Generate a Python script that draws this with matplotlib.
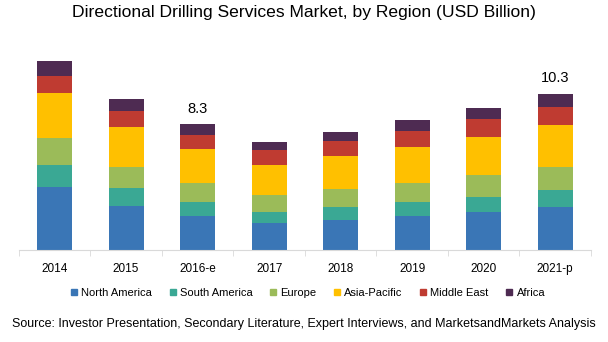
import numpy as np
import matplotlib.pyplot as plt
from matplotlib.lines import Line2D

years = ['2014', '2015', '2016-e', '2017', '2018', '2019', '2020', '2021-p']
regions = ['North America', 'South America', 'Europe', 'Asia-Pacific', 'Middle East', 'Africa']
north_america = [4.17, 2.92, 2.26, 1.80, 1.98, 2.26, 2.52, 2.86]
south_america = [1.43, 1.19, 0.92, 0.73, 0.88, 0.92, 0.99, 1.10]
europe = [1.76, 1.38, 1.25, 1.10, 1.17, 1.25, 1.45, 1.52]
asia_pacific = [2.97, 2.62, 2.22, 1.98, 2.18, 2.35, 2.48, 2.77]
middle_east = [1.14, 1.05, 0.92, 0.99, 0.99, 1.05, 1.17, 1.17]
africa = [0.99, 0.79, 0.73, 0.51, 0.57, 0.73, 0.75, 0.88]
labels = {'2016-e': '8.3', '2021-p': '10.3'}

colors = ['#3a76b6', '#3aa894', '#9bbb59', '#ffc000', '#bf3b31', '#4e2b52']
series = [north_america, south_america, europe, asia_pacific, middle_east, africa]

plt.rcParams['font.family'] = ['Liberation Sans', 'DejaVu Sans']
fig = plt.figure(figsize=(6.08, 3.42), dpi=100)
ax = fig.add_axes([0.031, 0.269, 0.941, 0.599])

x = np.arange(len(years))
bottom = np.zeros(len(years))
for vals, c, name in zip(series, colors, regions):
    ax.bar(x, vals, bottom=bottom, width=0.49, color=c, label=name)
    bottom += np.array(vals)

for i, y in enumerate(years):
    if y in labels:
        ax.text(i, bottom[i] + 0.55, labels[y], ha='center', va='bottom', fontsize=10.5)

ax.set_xlim(-0.5, len(years) - 0.5)
ax.set_ylim(0, 13.5)
ax.set_yticks([])
ax.set_xticks(x)
ax.set_xticklabels(years, fontsize=8.5)
ax.tick_params(axis='x', length=0, pad=9)
ax.set_xticks(np.arange(len(years) + 1) - 0.5, minor=True)
ax.tick_params(axis='x', which='minor', length=4, color='#d9d9d9')
for s in ['top', 'right', 'left']:
    ax.spines[s].set_visible(False)
ax.spines['bottom'].set_color('#d9d9d9')

fig.suptitle('Directional Drilling Services Market, by Region (USD Billion)', y=0.985, fontsize=12.6)

handles = [Line2D([], [], marker='s', linestyle='', color=c, markersize=5) for c in colors]
fig.legend(handles, regions, loc='center', bbox_to_anchor=(0.506, 0.143), ncol=6, frameon=False,
           fontsize=8, handlelength=0.7, handletextpad=0.3, columnspacing=1.5)

fig.text(0.5, 0.045, 'Source: Investor Presentation, Secondary Literature, Expert Interviews, and MarketsandMarkets Analysis',
         ha='center', fontsize=9)

fig.savefig('out.png', dpi=100)
